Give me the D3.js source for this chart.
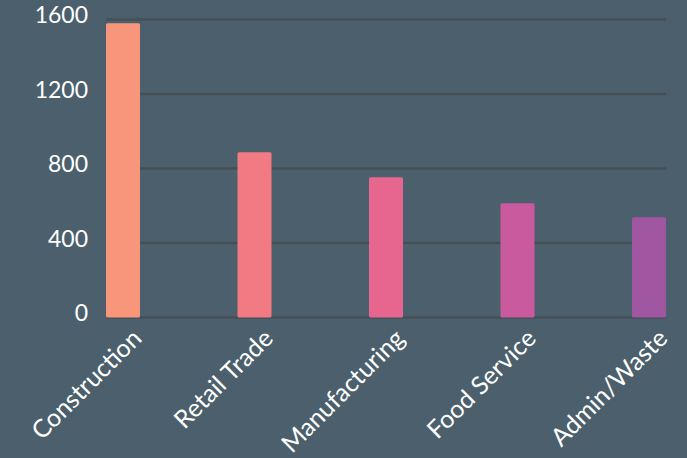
<!DOCTYPE html>
<html>
<head>
<meta charset="utf-8">
<script src="https://cdn.jsdelivr.net/npm/d3@7"></script>
<style>
  body { margin: 0; background: #4b606c; }
  svg { display: block; }
</style>
</head>
<body>
<div id="chart"></div>
<script>
// data
const categories = ["Construction", "Retail Trade", "Manufacturing", "Food Service", "Admin/Waste"];
const values = [1580, 887, 753, 613, 538];
const barColors = ["#f7967b", "#f27a83", "#e7668f", "#c85a9d", "#a056a1"];
const yTicks = [0, 400, 800, 1200, 1600];

const width = 687, height = 458;

const svg = d3.select("#chart")
  .append("svg")
  .attr("width", width)
  .attr("height", height);

svg.append("rect")
  .attr("width", width)
  .attr("height", height)
  .attr("fill", "#4b606c");

// X scale
const x = d3.scaleBand()
  .domain(categories)
  .range([106, 666])
  .paddingInner(0.7414)
  .paddingOuter(0);

// Y scale
const y = d3.scaleLinear()
  .domain([0, 1600])
  .range([317.5, 19.5]);

// grid lines
svg.append("g")
  .selectAll("line")
  .data(yTicks).enter()
  .append("line")
  .attr("x1", 106)
  .attr("x2", 666)
  .attr("y1", d => y(d))
  .attr("y2", d => y(d))
  .attr("stroke", "#454f56")
  .attr("stroke-width", 2.5);

// y axis labels
const yAxis = svg.append("g")
  .attr("transform", "translate(88,0)")
  .call(d3.axisLeft(y).tickValues(yTicks).tickFormat(d3.format("d")).tickSize(0).tickPadding(0));
yAxis.select(".domain").remove();
yAxis.selectAll("text")
  .attr("fill", "#ffffff")
  .attr("dy", "0.15em")
  .style("font-family", "Lato, 'Open Sans', sans-serif")
  .style("font-size", "23px");

// bars
svg.append("g")
  .selectAll("rect")
  .data(values).enter()
  .append("rect")
  .attr("x", (d, i) => x(categories[i]))
  .attr("y", d => y(d))
  .attr("width", x.bandwidth())
  .attr("height", d => y(0) - y(d))
  .attr("rx", 1.5)
  .attr("fill", (d, i) => barColors[i]);

// x axis labels
const xAxis = svg.append("g")
  .attr("transform", "translate(0,318)")
  .call(d3.axisBottom(x).tickSize(0).tickPadding(0));
xAxis.select(".domain").remove();
xAxis.selectAll("text")
  .attr("fill", "#ffffff")
  .attr("text-anchor", "end")
  .attr("transform", "translate(20,22) rotate(-45)")
  .attr("dy", "0")
  .attr("y", 0)
  .style("font-family", "Lato, 'Open Sans', sans-serif")
  .style("font-size", "25px");
</script>
</body>
</html>
